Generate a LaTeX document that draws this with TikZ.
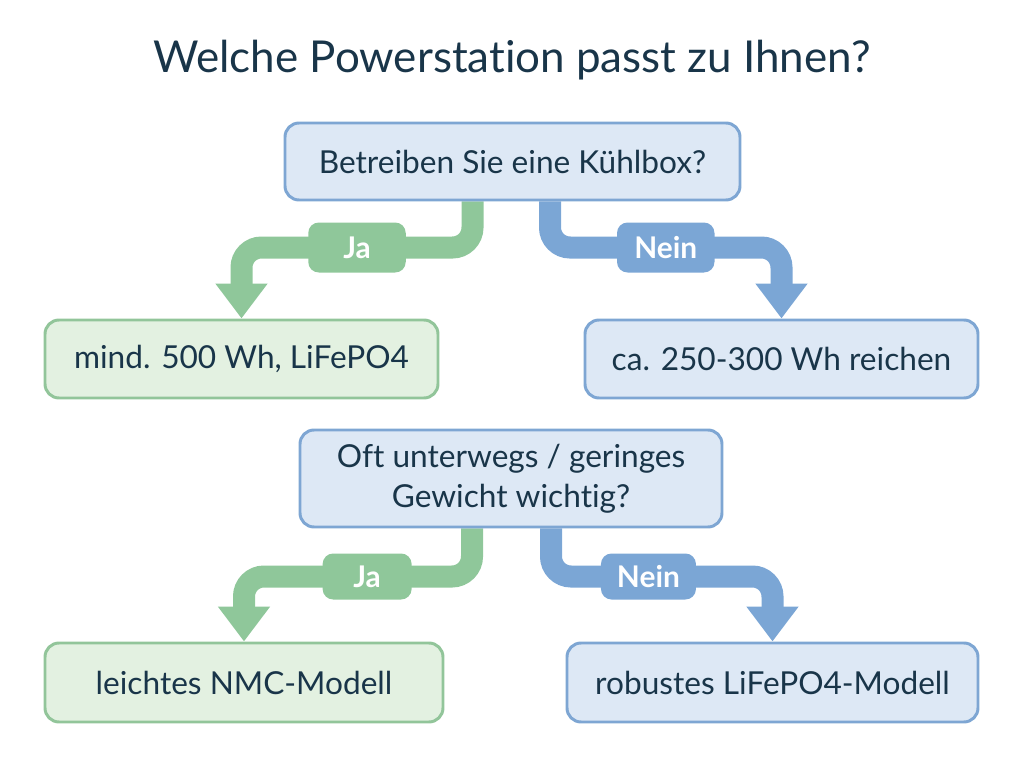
\documentclass[tikz,border=0pt]{standalone}
\usepackage{fontspec}
\setmainfont{Lato}[Ligatures=NoCommon]
\usetikzlibrary{arrows.meta, positioning, backgrounds}
\definecolor{inkc}{HTML}{193549}
\definecolor{qfill}{HTML}{DDE8F5}
\definecolor{qline}{HTML}{7EA6D3}
\definecolor{gfill}{HTML}{E3F1E1}
\definecolor{gline}{HTML}{92C59A}
\definecolor{garr}{HTML}{8FC79A}
\definecolor{barr}{HTML}{7BA6D5}

\begin{document}
\begin{tikzpicture}[
  bx/.style={draw=#1, line width=1.7pt, rounded corners=8pt, align=center, text=inkc, font=\fontsize{18}{23}\selectfont},
  qbox/.style={bx=qline, fill=qfill},
  gbox/.style={bx=gline, fill=gfill},
  lbl/.style={fill=#1, rounded corners=6pt, minimum width=1.95cm, minimum height=1cm, text=white, font=\fontsize{17}{19}\selectfont\bfseries},
  flow/.style={line width=0.44cm, draw=#1, rounded corners=0.4cm, -{Triangle[width=1cm,length=0.7cm]}}
]
\useasboundingbox (0,0) rectangle (20.48,-15.36);

\node[text=inkc, font=\fontsize{25}{30}\selectfont] (title) at (10.24,-1.2) {Welche Powerstation passt zu Ihnen?};

% first question
\node[qbox, minimum width=9.1cm, minimum height=1.54cm] (q1) at (10.25,-3.23) {Betreiben Sie eine Kühlbox?};
\node[gbox, minimum width=7.86cm, minimum height=1.56cm] (a1) at (4.83,-7.18) {mind. 500 Wh, LiFePO4};
\node[qbox, minimum width=7.86cm, minimum height=1.56cm] (b1) at (15.63,-7.18) {ca. 250-300 Wh reichen};

% second question
\node[qbox, minimum width=8.44cm, minimum height=1.94cm] (q2) at (10.22,-9.57) {Oft unterwegs / geringes\\Gewicht wichtig?};
\node[gbox, minimum width=7.96cm, minimum height=1.58cm] (a2) at (4.88,-13.65) {leichtes NMC-Modell};
\node[qbox, minimum width=8.22cm, minimum height=1.58cm] (b2) at (15.45,-13.65) {robustes LiFePO4-Modell};

\begin{scope}[on background layer]
\draw[flow=garr] ([xshift=-0.8cm]q1.south) |- node[lbl=garr, pos=0.75] (ja1) {Ja} ([yshift=1.42cm]a1.north) -- (a1.north);
\draw[flow=barr] ([xshift=0.75cm]q1.south) |- node[lbl=barr, pos=0.75] (nein1) {Nein} ([yshift=1.42cm]b1.north) -- (b1.north);
\draw[flow=garr] ([xshift=-0.78cm]q2.south) |- node[lbl=garr, pos=0.73, minimum width=1.78cm, minimum height=0.92cm] (ja2) {Ja} ([yshift=1.3cm]a2.north) -- (a2.north);
\draw[flow=barr] ([xshift=0.8cm]q2.south) |- node[lbl=barr, pos=0.72, minimum width=1.9cm, minimum height=0.92cm] (nein2) {Nein} ([yshift=1.3cm]b2.north) -- (b2.north);
\end{scope}
\end{tikzpicture}
\end{document}
